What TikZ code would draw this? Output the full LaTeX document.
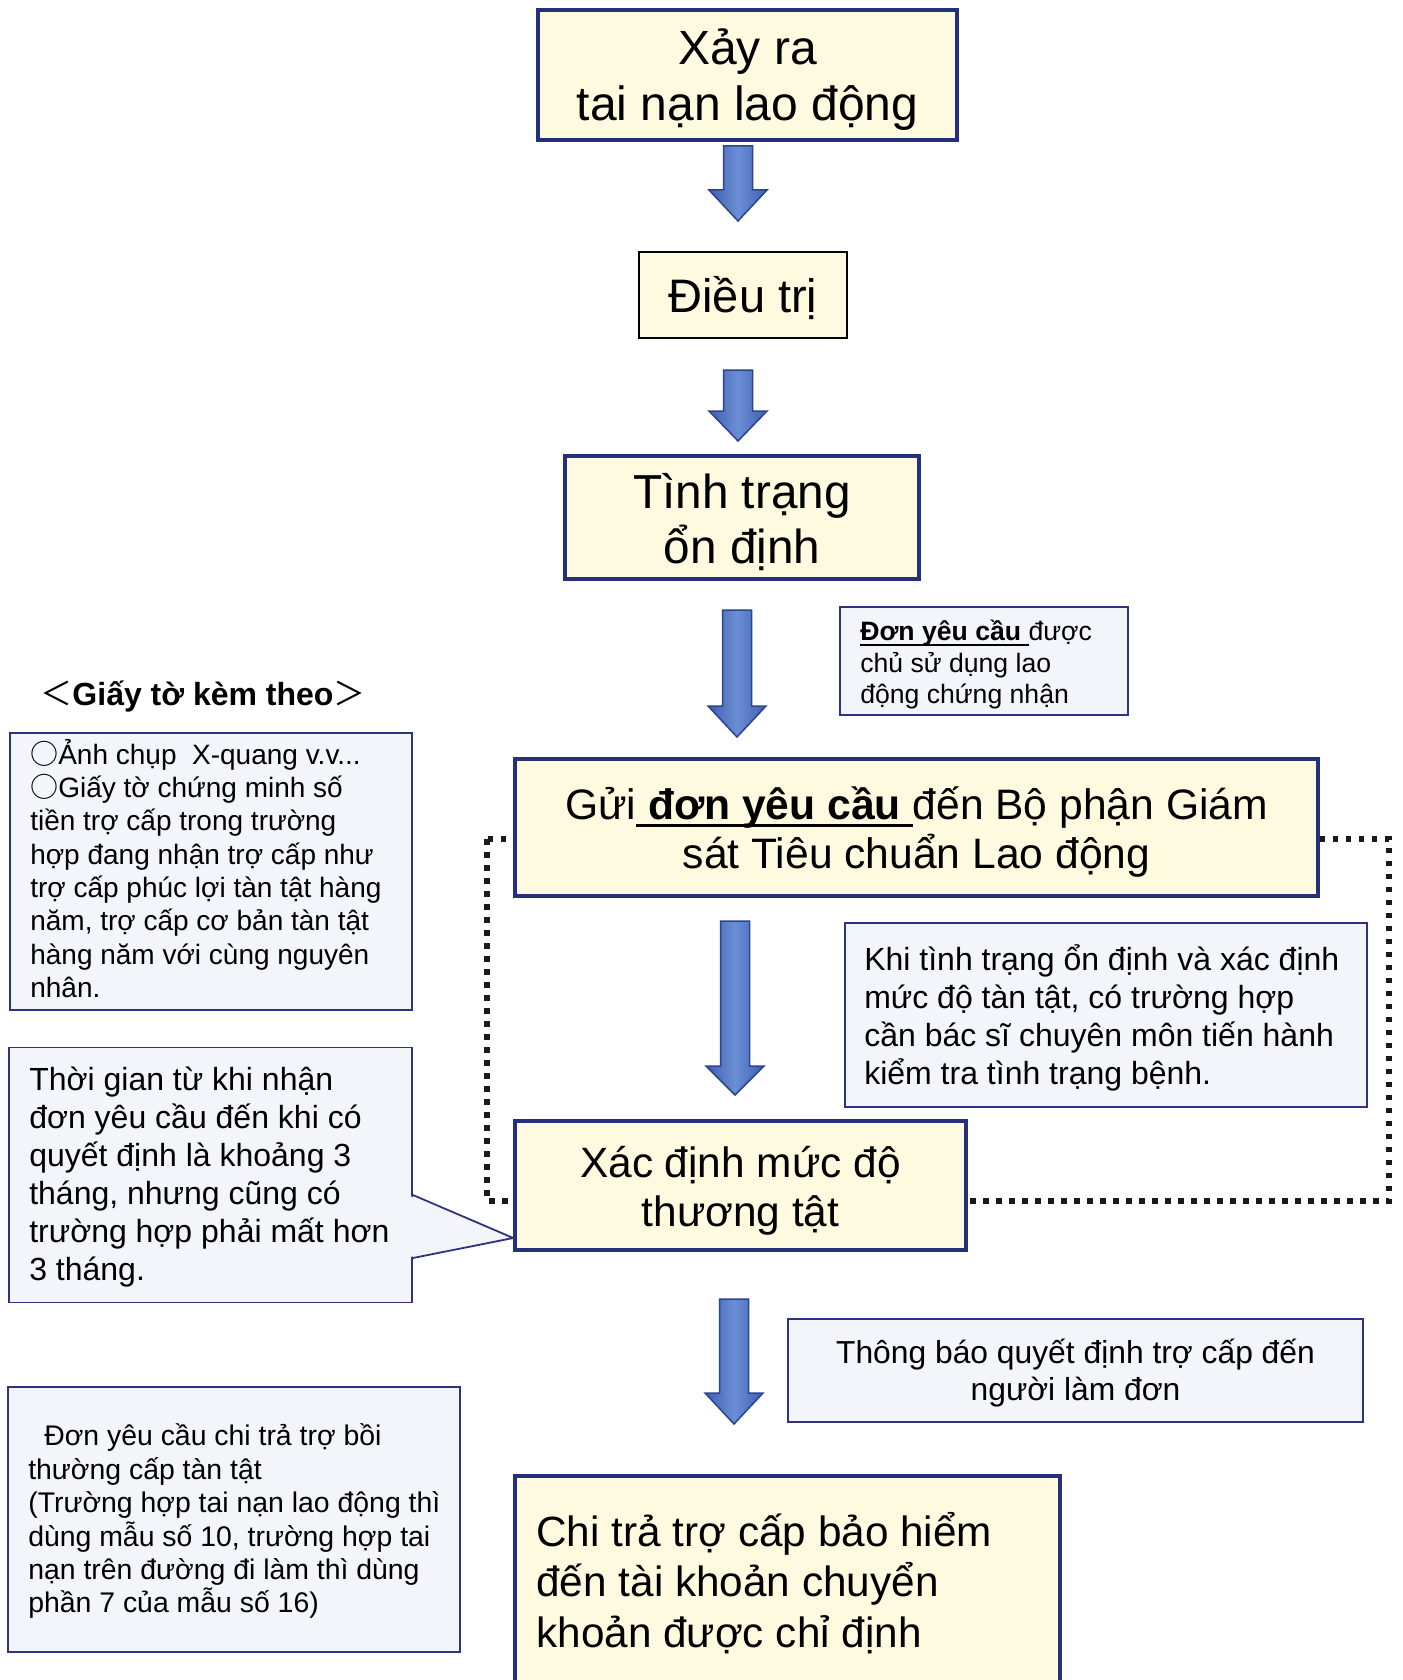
\documentclass[tikz,border=0pt]{standalone}
\usepackage{fontspec}
\setmainfont{Liberation Sans}
\newfontfamily\cjkf{Noto Sans CJK JP}
\usetikzlibrary{calc}
\definecolor{cream}{HTML}{FDFADF}
\definecolor{navy}{HTML}{24307C}
\definecolor{lightbg}{HTML}{F4F4FB}
\definecolor{lightbd}{HTML}{2E3380}
\definecolor{arrowside}{HTML}{3F5FAE}
\definecolor{arrowmid}{HTML}{6B8FD6}
\definecolor{arrowdraw}{HTML}{2A4590}
\newsavebox\ulbox
\newcommand\myul[3]{\sbox\ulbox{#1}\rlap{\rule[#2]{\wd\ulbox}{#3}}\usebox\ulbox}
\newcommand\barrow[4]{%
  \draw[blockarrow] (#1-14.5,#2) -- (#1+14.5,#2) -- (#1+14.5,#3) -- (#1+29,#3) -- (#1,#4) -- (#1-29,#3) -- (#1-14.5,#3) -- cycle;}
\begin{document}
\begin{tikzpicture}[x=1pt,y=-1pt,
  mainbox/.style={draw=navy, line width=3.5pt, fill=cream, inner sep=0pt},
  plainbox/.style={draw=black, line width=1.8pt, fill=cream, inner sep=0pt},
  notebox/.style={draw=lightbd, line width=1.8pt, fill=lightbg, inner sep=0pt},
  ctext/.style={align=center, inner sep=0pt},
  ltext/.style={align=left, anchor=west, inner sep=0pt},
  blockarrow/.style={left color=arrowside, right color=arrowside, middle color=arrowmid, draw=arrowdraw, line width=1.5pt, line join=miter},
  dotframe/.style={draw=black!90, line width=5.5pt, dash pattern=on 5.5pt off 7.5pt}]
\useasboundingbox (0,0) rectangle (1402,1680);
\fill[white] (0,0) rectangle (1402,1680);

\draw[dotframe] (487,839) rectangle (1389,1201);

% main flow boxes
\node[mainbox, minimum width=419pt, minimum height=130pt] (b1) at (747.5,75) {};
\node[ctext, font=\fontsize{48}{56}\selectfont] (b1t) at ($(b1.center)+(0,5)$) {Xảy ra\\tai nạn lao động};

\node[plainbox, minimum width=208pt, minimum height=86pt] (b2) at (743,295) {};
\node[ctext, font=\fontsize{47}{56}\selectfont] (b2t) at ($(b2.center)+(0,3)$) {Điều trị};

\node[mainbox, minimum width=354pt, minimum height=123pt] (b3) at (742,517.5) {};
\node[ctext, font=\fontsize{47.7}{55}\selectfont] (b3t) at ($(b3.center)+(0,5)$) {Tình trạng\\ổn định};

\node[notebox, minimum width=288pt, minimum height=108pt] (n1) at (984,661) {};
\node[ltext, font=\fontsize{26.6}{31.5}\selectfont] (n1t) at ($(n1.west)+(21,4)$) {\myul{\textbf{Đơn yêu cầu}\ }{-5pt}{2pt}được\\chủ sử dụng lao\\động chứng nhận};

\node[font=\bfseries\fontsize{32}{36}\selectfont, inner sep=0pt] (title) at (203,697) {{\cjkf\mdseries ＜}Giấy tờ kèm theo{\cjkf\mdseries ＞}};

\node[notebox, minimum width=402pt, minimum height=277pt] (att) at (211,871.5) {};
\node[ltext, font=\fontsize{28}{33.3}\selectfont] (attt) at ($(att.west)+(21,-3)$) {{\cjkf ○}Ảnh chụp\ \ X-quang v.v...\\{\cjkf ○}Giấy tờ chứng minh số\\tiền trợ cấp trong trường\\hợp đang nhận trợ cấp như\\trợ cấp phúc lợi tàn tật hàng\\năm, trợ cấp cơ bản tàn tật\\hàng năm với cùng nguyên\\nhân.};

\node[mainbox, minimum width=803pt, minimum height=137pt] (b4) at (916.5,827.5) {};
\node[ctext, font=\fontsize{42.6}{49}\selectfont] (b4t) at ($(b4.center)+(0,5)$) {Gửi\myul{\ \textbf{đơn yêu cầu}\ }{-7pt}{3pt}đến Bộ phận Giám\\sát Tiêu chuẩn Lao động};

\node[notebox, minimum width=522pt, minimum height=184pt] (kt) at (1106,1015) {};
\node[ltext, font=\fontsize{32}{38}\selectfont] (ktt) at ($(kt.west)+(20,3)$) {Khi tình trạng ổn định và xác định\\mức độ tàn tật, có trường hợp\\cần bác sĩ chuyên môn tiến hành\\kiểm tra tình trạng bệnh.};

\node[notebox, minimum width=403pt, minimum height=255pt] (tg) at (210.5,1175) {};
\node[ltext, font=\fontsize{32}{38}\selectfont] (tgt) at ($(tg.west)+(21,2)$) {Thời gian từ khi nhận\\đơn yêu cầu đến khi có\\quyết định là khoảng 3\\tháng, nhưng cũng có\\trường hợp phải mất hơn\\3 tháng.};

\node[mainbox, minimum width=451pt, minimum height=129pt] (b5) at (740.5,1185.5) {};
\node[ctext, font=\fontsize{42.4}{49}\selectfont] (b5t) at ($(b5.center)+(0,5)$) {Xác định mức độ\\thương tật};

\fill[lightbg] ($(tg.east |- 0,1196)+(-3,0)$) -- (b5.west |- 0,1238) -- ($(tg.east |- 0,1257)+(-3,0)$) -- cycle;
\draw[draw=lightbd, line width=1.8pt] (tg.east |- 0,1195) -- (b5.west |- 0,1238) -- (tg.east |- 0,1258);

\node[notebox, minimum width=575pt, minimum height=103pt] (tb) at (1075.5,1370.5) {};
\node[ctext, font=\fontsize{31.8}{37}\selectfont] (tbt) at ($(tb.center)+(0,3)$) {Thông báo quyết định trợ cấp đến\\người làm đơn};

\node[notebox, minimum width=452pt, minimum height=265pt] (dy) at (234,1519.5) {};
\node[ltext, font=\fontsize{28.4}{33.4}\selectfont] (dyt) at ($(dy.west)+(21,2)$) {\hspace*{16pt}Đơn yêu cầu chi trả trợ bồi\\thường cấp tàn tật\\(Trường hợp tai nạn lao động thì\\dùng mẫu số 10, trường hợp tai\\nạn trên đường đi làm thì dùng\\phần 7 của mẫu số 16)};

\node[mainbox, minimum width=545pt, minimum height=214pt] (b6) at (787.5,1583) {};
\node[ltext, font=\fontsize{42.3}{50.5}\selectfont] (b6t) at ($(b6.west)+(23,0)$) {Chi trả trợ cấp bảo hiểm\\đến tài khoản chuyển\\khoản được chỉ định};

% block arrows between the flow boxes
\barrow{738}{146}{190}{221}
\barrow{738}{370}{411}{441}
\barrow{737}{610}{706}{737}
\barrow{735}{921}{1066}{1095}
\barrow{734}{1299}{1393}{1424}
\end{tikzpicture}
\end{document}
